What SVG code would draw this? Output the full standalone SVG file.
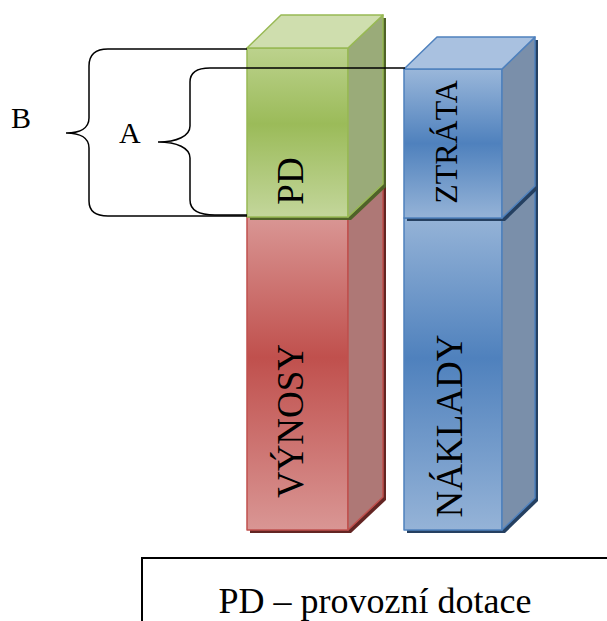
<svg xmlns="http://www.w3.org/2000/svg" width="607" height="621" viewBox="0 0 607 621">
  <defs>
    <linearGradient id="gGreen" x1="0" y1="0" x2="0" y2="1">
      <stop offset="0" stop-color="#bcd28d"/>
      <stop offset="0.45" stop-color="#9bbb59"/>
      <stop offset="1" stop-color="#c3d69b"/>
    </linearGradient>
    <linearGradient id="gRed" x1="0" y1="0" x2="0" y2="1">
      <stop offset="0" stop-color="#d99694"/>
      <stop offset="0.45" stop-color="#c0504d"/>
      <stop offset="1" stop-color="#d99694"/>
    </linearGradient>
    <linearGradient id="gBlue" x1="0" y1="0" x2="0" y2="1">
      <stop offset="0" stop-color="#95b3d7"/>
      <stop offset="0.45" stop-color="#4f81bd"/>
      <stop offset="1" stop-color="#95b3d7"/>
    </linearGradient>
    <linearGradient id="gBlueTop" x1="0" y1="0" x2="0" y2="1">
      <stop offset="0" stop-color="#9ab7da"/>
      <stop offset="0.5" stop-color="#4f81bd"/>
      <stop offset="1" stop-color="#95b3d7"/>
    </linearGradient>
  </defs>
  <style>
    .lbl { font-family: "Liberation Serif", "Times New Roman", serif; fill: #000; }
    .g { stroke: #98b954; stroke-width: 1.5; stroke-linejoin: round; }
    .r { stroke: #c0504d; stroke-width: 1.5; stroke-linejoin: round; }
    .b { stroke: #4f81bd; stroke-width: 1.5; stroke-linejoin: round; }
    .brace { fill: none; stroke: #000; stroke-width: 1.5; }
  </style>
  <rect width="607" height="621" fill="#fff"/>

  <g id="box-vynosy">
    <polygon points="250,220 284,187 386,187 386,500 351,533 250,533" fill="#632523"/>
    <rect class="r" x="247" y="217" width="101" height="313" fill="url(#gRed)"/>
    <polygon class="r" points="348,217 383,184 383,497 348,530" fill="#ae7876"/>
    <polygon class="r" points="247,217 281,184 383,184 348,217" fill="#e0a7a5"/>
    <text class="lbl" font-size="37" text-anchor="middle" transform="translate(303,421) rotate(-90)">VÝNOSY</text>
  </g>

  <g id="box-pd">
    <polygon points="250,51 284,18 386,18 386,187 351,220 250,220" fill="#4f6228"/>
    <rect class="g" x="247" y="48" width="101" height="169" fill="url(#gGreen)"/>
    <polygon class="g" points="348,48 383,15 383,184 348,217" fill="#9aab79"/>
    <polygon class="g" points="247,48 281,15 383,15 348,48" fill="#cfdeae"/>
    <text class="lbl" font-size="37" text-anchor="middle" transform="translate(303,181) rotate(-90)">PD</text>
  </g>

  <g id="box-naklady">
    <polygon points="407,221 440,189 538,189 538,501 505,533 407,533" fill="#254061"/>
    <rect class="b" x="404" y="218" width="98" height="312" fill="url(#gBlue)"/>
    <polygon class="b" points="502,218 535,186 535,498 502,530" fill="#7a8faa"/>
    <text class="lbl" font-size="37" text-anchor="middle" transform="translate(462,426) rotate(-90)">NÁKLADY</text>
  </g>

  <g id="box-ztrata">
    <polygon points="407,72 440,40 538,40 538,189 505,221 407,221" fill="#254061"/>
    <rect class="b" x="404" y="69" width="98" height="149" fill="url(#gBlueTop)"/>
    <polygon class="b" points="502,69 535,37 535,186 502,218" fill="#7a8faa"/>
    <polygon class="b" points="404,69 437,37 535,37 502,69" fill="#a9c1e0"/>
    <text class="lbl" font-size="32" text-anchor="middle" transform="translate(457,142) rotate(-90)">ZTRÁTA</text>
  </g>

  <g id="connectors">
    <path id="brace-b" class="brace" d="M247,49 H108 C96,49 89,54 89,66 V118 C89,128 80,133 66,133 C80,133 89,138 89,148 V201 C89,211 96,216 108,216 H247"/>
    <path id="brace-a" class="brace" d="M405,68 H210 C197,68 190,72 190,82 V126 C190,136 177,142 158,142 C177,142 190,148 190,158 V200 C190,210 198,215 215,215 H247"/>
  </g>

  <g id="label-b"><text class="lbl" x="11" y="128" font-size="30">B</text></g>
  <g id="label-a"><text class="lbl" x="119" y="143" font-size="30">A</text></g>

  <g id="legend">
    <path d="M142,621 V558 H607" fill="none" stroke="#000" stroke-width="2"/>
    <text class="lbl" x="375" y="613" font-size="36" text-anchor="middle">PD – provozní dotace</text>
  </g>
</svg>
